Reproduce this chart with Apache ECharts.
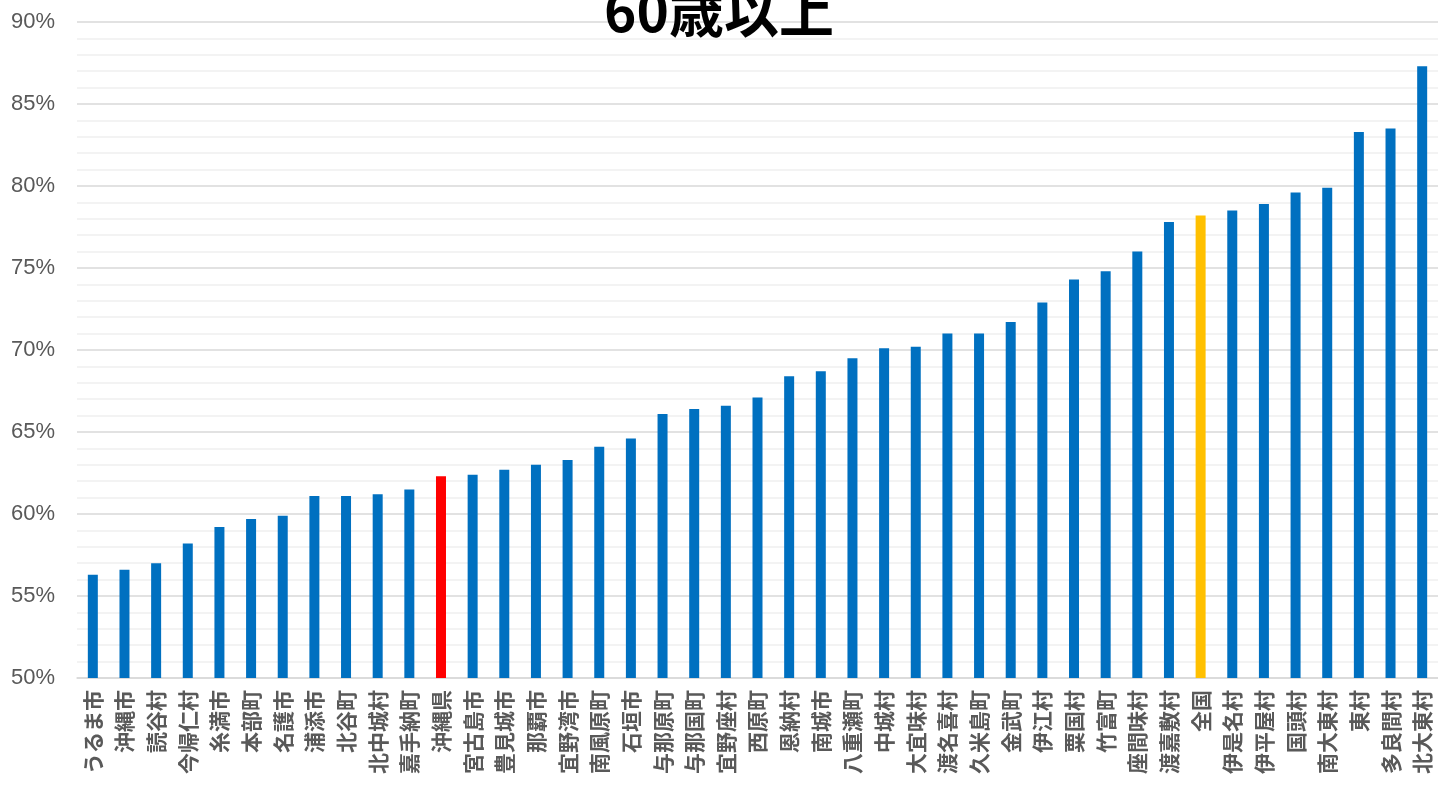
<!DOCTYPE html>
<html>
<head>
<meta charset="utf-8">
<title>60歳以上</title>
<script src="https://cdn.jsdelivr.net/npm/echarts@6/dist/echarts.min.js"></script>
<style>
  html, body { margin: 0; padding: 0; background: #fff; }
  #main { width: 1438px; height: 790px; }
</style>
</head>
<body>
<div id="main"></div>
<script>
// 市町村名
var areas = ['うるま市','沖縄市','読谷村','今帰仁村','糸満市','本部町','名護市','浦添市','北谷町','北中城村','嘉手納町','沖縄県',
  '宮古島市','豊見城市','那覇市','宜野湾市','南風原町','石垣市','与那原町','与那国町','宜野座村','西原町','恩納村','南城市',
  '八重瀬町','中城村','大宜味村','渡名喜村','久米島町','金武町','伊江村','粟国村','竹富町','座間味村','渡嘉敷村','全国',
  '伊是名村','伊平屋村','国頭村','南大東村','東村','多良間村','北大東村'];
// 60歳以上の割合(%)
var ratios = [56.3,56.6,57.0,58.2,59.2,59.7,59.9,61.1,61.1,61.2,61.5,62.3,
  62.4,62.7,63.0,63.3,64.1,64.6,66.1,66.4,66.6,67.1,68.4,68.7,
  69.5,70.1,70.2,71.0,71.0,71.7,72.9,74.3,74.8,76.0,77.8,78.2,
  78.5,78.9,79.6,79.9,83.3,83.5,87.3];
var yTicks = [50, 55, 60, 65, 70, 75, 80, 85, 90];

var myChart = echarts.init(document.getElementById('main'));

var option = {
    animation: false,
    title: {
        text: '60歳以上',
        left: 'center',
        top: -21,
        textStyle: {
            fontSize: 55,
            fontWeight: 'bold',
            color: '#000',
            fontFamily: 'Noto Sans CJK JP'
        }
    },
    grid: { left: 77, right: -4, top: 22, bottom: 112 },
    xAxis: {
        type: 'category',
        data: areas,
        axisTick: { show: false },
        axisLine: { lineStyle: { color: '#d9d9d9', width: 1.5 } },
        axisLabel: {
            interval: 0,
            rotate: 90,
            margin: 12,
            fontSize: 21,
            fontWeight: 'bold',
            color: '#595959',
            fontFamily: 'Noto Sans CJK JP'
        }
    },
    yAxis: {
        type: 'value',
        min: yTicks[0],
        max: yTicks[yTicks.length - 1],
        interval: 5,
        axisLine: { show: false },
        axisTick: { show: false },
        axisLabel: {
            formatter: '{value}%',
            margin: 22,
            fontSize: 22,
            color: '#595959',
            fontFamily: 'Liberation Sans'
        },
        splitLine: { lineStyle: { color: '#d9d9d9', width: 1.5 } },
        minorTick: { show: false, splitNumber: 5 },
        minorSplitLine: { show: true, lineStyle: { color: '#f0f0f0', width: 1.5 } }
    },
    series: [{
        type: 'bar',
        barWidth: 10,
        data: ratios.map(function (v, i) {
            var c = '#0070C0';
            if (areas[i] == '沖縄県') c = '#FF0000';
            if (areas[i] == '全国') c = '#FFC000';
            return { value: v, itemStyle: { color: c } };
        })
    }]
};

myChart.setOption(option);
</script>
</body>
</html>
